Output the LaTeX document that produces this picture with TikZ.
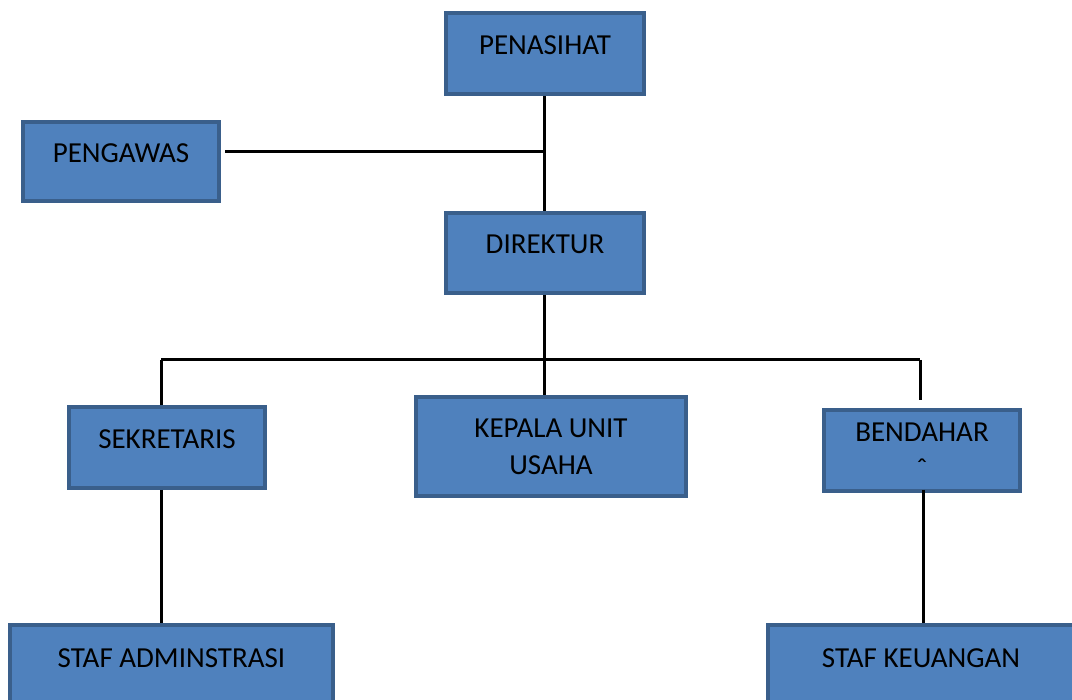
\documentclass[tikz,border=0pt]{standalone}
\usepackage{fontspec}
\setmainfont{Carlito}
\definecolor{boxfill}{HTML}{4F81BD}
\definecolor{boxline}{HTML}{3A5F8B}
\tikzset{
  unit/.style={draw=boxline,fill=boxfill,line width=4pt,inner sep=0pt,
    font=\fontsize{29}{37}\selectfont,text height=18pt,text depth=16pt},
  unitwide/.style={unit,text height=,text depth=,align=center},
  link/.style={line width=3pt,black}
}
\begin{document}
\begin{tikzpicture}[x=1pt,y=-1pt]
\useasboundingbox (0,0) rectangle (1072,700);
\node[unit,minimum width=198pt,minimum height=81pt] (penasihat) at (545,53.5) {PENASIHAT};
\node[unit,minimum width=196pt,minimum height=79pt] (pengawas) at (121,161.5) {PENGAWAS};
\node[unit,minimum width=198pt,minimum height=80pt] (direktur) at (545,253) {DIREKTUR};
\node[unit,minimum width=196pt,minimum height=81pt] (sekretaris) at (167,447.5) {SEKRETARIS};
\node[unitwide,minimum width=270pt,minimum height=99pt] (kepala) at (551,446.5) {KEPALA UNIT\\USAHA};
\node[unitwide,minimum width=196pt,minimum height=81pt] (bendahara) at (922,450.5) {BENDAHAR\\ˆ};
\node[unit,minimum width=323pt,minimum height=82pt] (stafadm) at (171.5,666) {STAF ADMINSTRASI};
\node[unit,minimum width=306pt,minimum height=82pt] (stafkeu) at (921,666) {STAF KEUANGAN};
% garis penghubung
\coordinate (jpeng) at (544,152);
\coordinate (busl) at (161,360);
\coordinate (busm) at (544,360);
\coordinate (busr) at (920,360);
\draw[link] (penasihat.south -| jpeng) -- (direktur.north -| jpeng);
\draw[link] ([xshift=4pt]pengawas.east |- jpeng) -- (jpeng);
\draw[link] (direktur.south -| busm) -- (busm);
\draw[link] (busl) -- (busr);
\draw[link] (busl) -- (busl |- sekretaris.north);
\draw[link] (busm) -- (busm |- kepala.north);
\draw[link,shorten >=8pt] (busr) -- (busr |- bendahara.north);
\draw[link] (sekretaris.south -| busl) -- (stafadm.north -| busl);
\draw[link] ([yshift=3pt]bendahara.south -| 923,0) -- (stafkeu.north -| 923,0);
\end{tikzpicture}
\end{document}
